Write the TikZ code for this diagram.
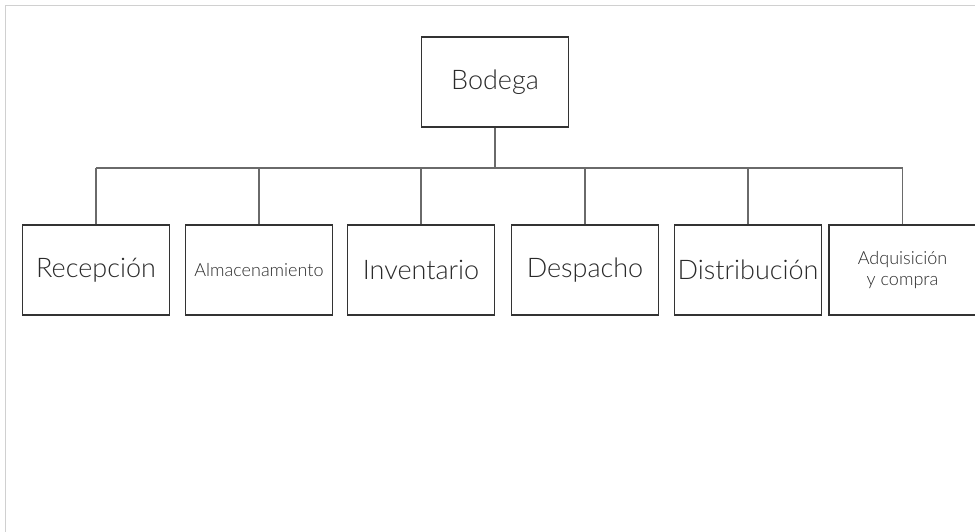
\documentclass[tikz,border=0pt]{standalone}
\usepackage{fontspec}
\setmainfont{Lato Light}
\definecolor{frame}{HTML}{D0D0D0}
\definecolor{boxline}{HTML}{333333}
\definecolor{link}{HTML}{6A6A6A}
\definecolor{label}{HTML}{2A2A2A}
\begin{document}
\begin{tikzpicture}[x=1pt,y=-1pt,
  unit/.style={draw=boxline,line width=1.4pt,minimum width=147pt,minimum height=90pt,
    inner sep=0pt,text=label,font=\fontsize{27}{30}\selectfont,align=center},
  small/.style={font=\fontsize{18}{21}\selectfont},
  link/.style={draw=link,line width=1.2pt}]
\useasboundingbox (0,0) rectangle (975,532);
\fill[white] (0,0) rectangle (975,532);
% page frame
\draw[frame,line width=1pt] (975,6) -- (5,6) -- (5,532);
% top node
\node[unit] (bod) at (495,82) {Bodega};
% departments
\node[unit] (rec) at (96,270) {Recepción};
\node[unit,small] (alm) at (259,270) {Almacenamiento};
\node[unit] (inv) at (421,270) {Inventario};
\node[unit] (des) at (585,270) {Despacho};
\node[unit] (dis) at (748,270) {Distribución};
\node[unit,small] (adq) at (902.5,270) {Adquisición\\y compra};
% tree connectors
\coordinate (bus) at (495,168);
\draw[link] (bod.south) -- (bus);
\draw[link] (rec.north |- bus) -- (adq.north |- bus);
\foreach \n in {rec,alm,inv,des,dis,adq}
  \draw[link] (\n.north |- bus) -- (\n.north);
\end{tikzpicture}
\end{document}
